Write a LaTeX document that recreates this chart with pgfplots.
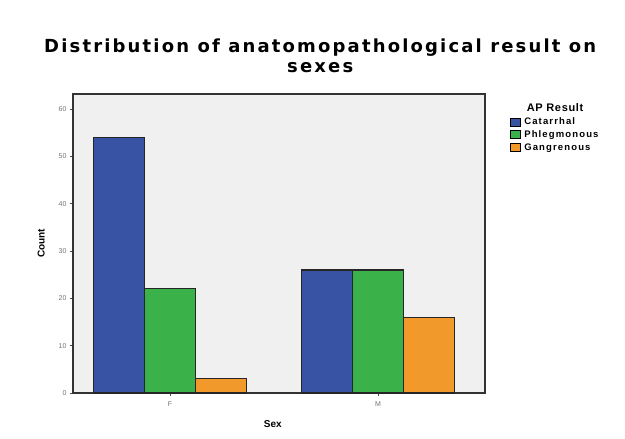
\documentclass[border=0pt]{standalone}
\usepackage{pgfplots}
\pgfplotsset{compat=1.18}
\usepackage{fontspec}
\setmainfont{Liberation Sans}
\newfontfamily\titlefont[LetterSpace=12]{DejaVu Sans}
\newfontfamily\legfont[LetterSpace=12]{Liberation Sans}
\newfontfamily\legtitlefont[LetterSpace=6]{Liberation Sans}
\definecolor{cblue}{HTML}{3953A4}
\definecolor{cgreen}{HTML}{3BB14A}
\definecolor{corange}{HTML}{F1992A}
\definecolor{bgrey}{HTML}{F0F0F0}
\begin{document}
\begin{tikzpicture}
\useasboundingbox (0,0) rectangle (625pt,439pt);
\begin{axis}[
  at={(73pt,46pt)}, anchor=south west,
  scale only axis, width=412pt, height=299pt,
  axis background/.style={fill=bgrey},
  axis line style={line width=1.2pt, black!80},
  ybar=0pt, bar width=51pt,
  xmin=-0.466, xmax=1.514, ymin=0, ymax=63.2,
  xtick={0,1}, xticklabels={F,M},
  ytick={0,10,20,30,40,50,60},
  tick align=outside, tick pos=left,
  major tick length=3pt,
  tick style={black!70, line width=0.8pt},
  ticklabel style={font=\fontsize{7}{8}\selectfont, text=black!55},
  xticklabel style={yshift=-2pt},
  /pgf/number format/assume math mode=true,
  ylabel={\bfseries Count}, xlabel={\bfseries Sex},
  label style={font=\fontsize{10}{12}\selectfont},
  ylabel style={at={(axis description cs:-0.06,0.5)}},
  xlabel style={at={(axis description cs:0.485,-0.08)}},
  title={Distribution of anatomopathological result on\\sexes},
  title style={font=\titlefont\bfseries\fontsize{18}{20}\selectfont, align=center, at={(axis description cs:0.6,1.04)}, anchor=south},
  legend cell align=left,
  legend style={at={(axis description cs:1.061,0.922)}, anchor=north west, draw=none, fill=none,
    font=\legfont\bfseries\fontsize{9.5}{10}\selectfont, row sep=4pt, inner sep=0pt,
    nodes={inner sep=0pt}},
  legend image code/.code={\draw[#1, draw=black, line width=0.8pt] (0pt,-4pt) rectangle (10pt,4pt); \path (13pt,0pt);},
  clip=false,
]
\addplot[fill=cblue, draw=black!85, line width=1.1pt] coordinates {(0,54) (1,26)};
\addplot[fill=cgreen, draw=black!85, line width=1.1pt] coordinates {(0,22) (1,26)};
\addplot[fill=corange, draw=black!85, line width=1.1pt] coordinates {(0,3) (1,16)};
\legend{Catarrhal, Phlegmonous, Gangrenous}
\node[font=\legtitlefont\bfseries\fontsize{11}{12}\selectfont, anchor=center] at (axis description cs:1.17,0.955) {AP Result};
\end{axis}
\end{tikzpicture}
\end{document}
